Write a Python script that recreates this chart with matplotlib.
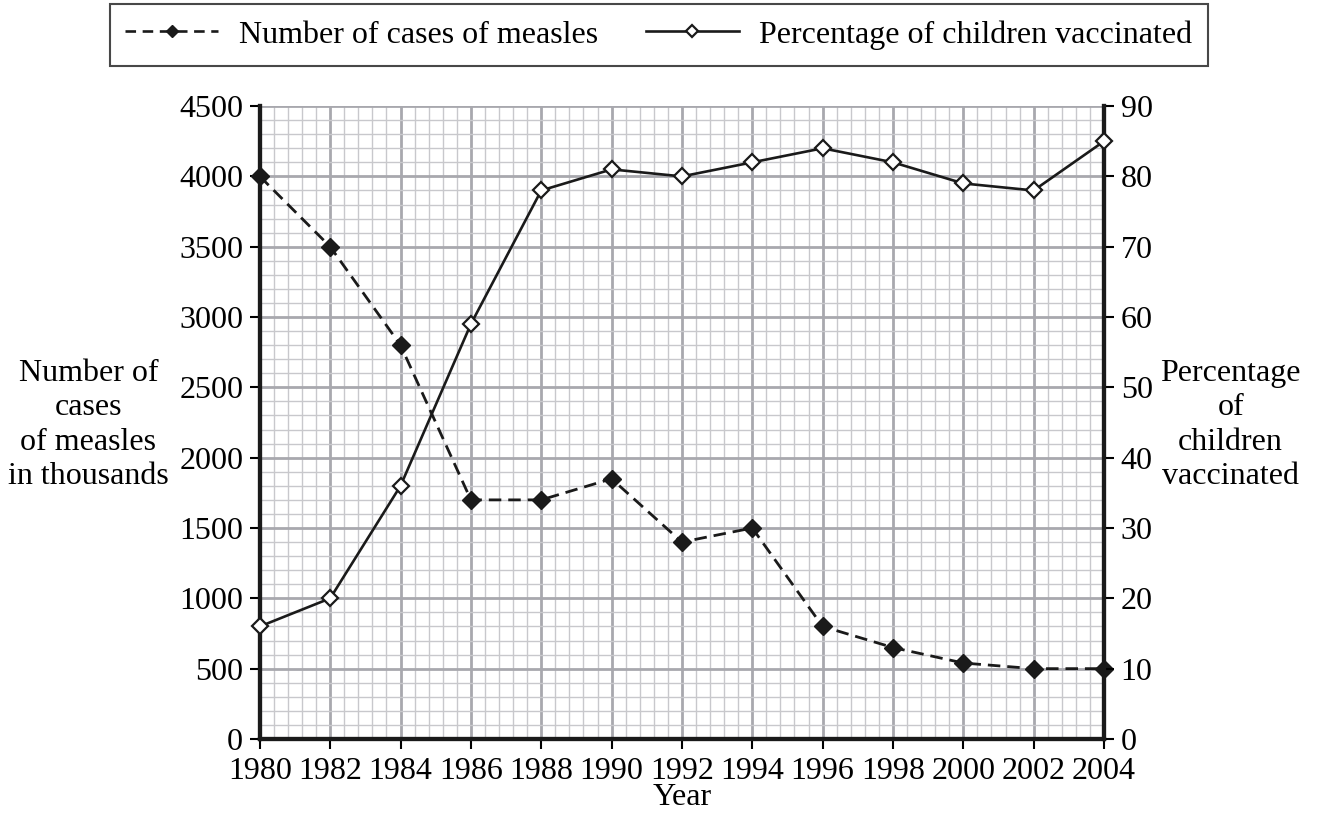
import matplotlib.pyplot as plt
from matplotlib.lines import Line2D
import numpy as np

plt.rcParams['font.family'] = ['Liberation Serif', 'DejaVu Serif']

years = [1980, 1982, 1984, 1986, 1988, 1990, 1992, 1994, 1996, 1998, 2000, 2002, 2004]
measles = [4000, 3500, 2800, 1700, 1700, 1850, 1400, 1500, 800, 650, 540, 500, 500]
vaccinated = [16, 20, 36, 59, 78, 81, 80, 82, 84, 82, 79, 78, 85]

FS = 23
INK = '#1a1a1a'

fig = plt.figure(figsize=(13.19, 8.16), dpi=100)
ax = fig.add_axes([0.197, 0.0944, 0.640, 0.7756])
ax2 = ax.twinx()

# graph paper grid
ax.set_xlim(1980, 2004)
ax.set_ylim(0, 4500)
ax.set_xticks(np.arange(1980, 2005, 2))
ax.set_yticks(np.arange(0, 4501, 500))
ax.set_xticks(np.arange(1980, 2004.01, 0.4), minor=True)
ax.set_yticks(np.arange(0, 4501, 100), minor=True)
ax.grid(which='minor', color='#c8c8cc', lw=1.0)
ax.grid(which='major', color='#a8a8ae', lw=2.0)
ax.set_axisbelow(True)
ax.tick_params(which='minor', length=0)
ax.tick_params(which='major', direction='out', length=7, width=1.5, labelsize=FS, pad=5)
ax.tick_params(axis='x', pad=6)

ax2.set_ylim(0, 90)
ax2.set_yticks(np.arange(0, 91, 10))
ax2.tick_params(direction='out', length=7, width=1.5, labelsize=FS, pad=5)

for a in (ax, ax2):
    a.spines['top'].set_visible(False)
    for s in ('left', 'right', 'bottom'):
        a.spines[s].set_linewidth(3)
        a.spines[s].set_color(INK)

ax.plot(years, measles, ls=(0, (4.5, 2.5)), color=INK, lw=2.0,
        marker='D', ms=9, mfc=INK, mec=INK, clip_on=False, zorder=5)
ax2.plot(years, vaccinated, ls='-', color=INK, lw=1.9,
         marker='D', ms=8, mfc='white', mec=INK, mew=1.6, clip_on=False, zorder=5)

ax.set_xlabel('Year', fontsize=FS, labelpad=-2)
fig.text(0.067, 0.479, 'Number of\ncases\nof measles\nin thousands', fontsize=FS,
         ha='center', va='center', linespacing=1.25)
fig.text(0.933, 0.479, 'Percentage\nof\nchildren\nvaccinated', fontsize=FS,
         ha='center', va='center', linespacing=1.25)

handles = [
    Line2D([], [], ls=(0, (4, 2.5)), color=INK, lw=1.9, marker='D', ms=6,
           mfc=INK, mec=INK),
    Line2D([], [], ls='-', color=INK, lw=1.9, marker='D', ms=6,
           mfc='white', mec=INK, mew=1.6),
]
leg = fig.legend(handles, ['Number of cases of measles', 'Percentage of children vaccinated'],
                 loc='upper center', bbox_to_anchor=(0.4996, 0.995), ncol=2, fontsize=FS,
                 frameon=True, fancybox=False, edgecolor=INK, handlelength=2.9,
                 columnspacing=1.5, borderpad=0.5, handletextpad=0.65, borderaxespad=0.0)
leg.get_frame().set_linewidth(1.5)

fig.savefig('out.png', dpi=100)
